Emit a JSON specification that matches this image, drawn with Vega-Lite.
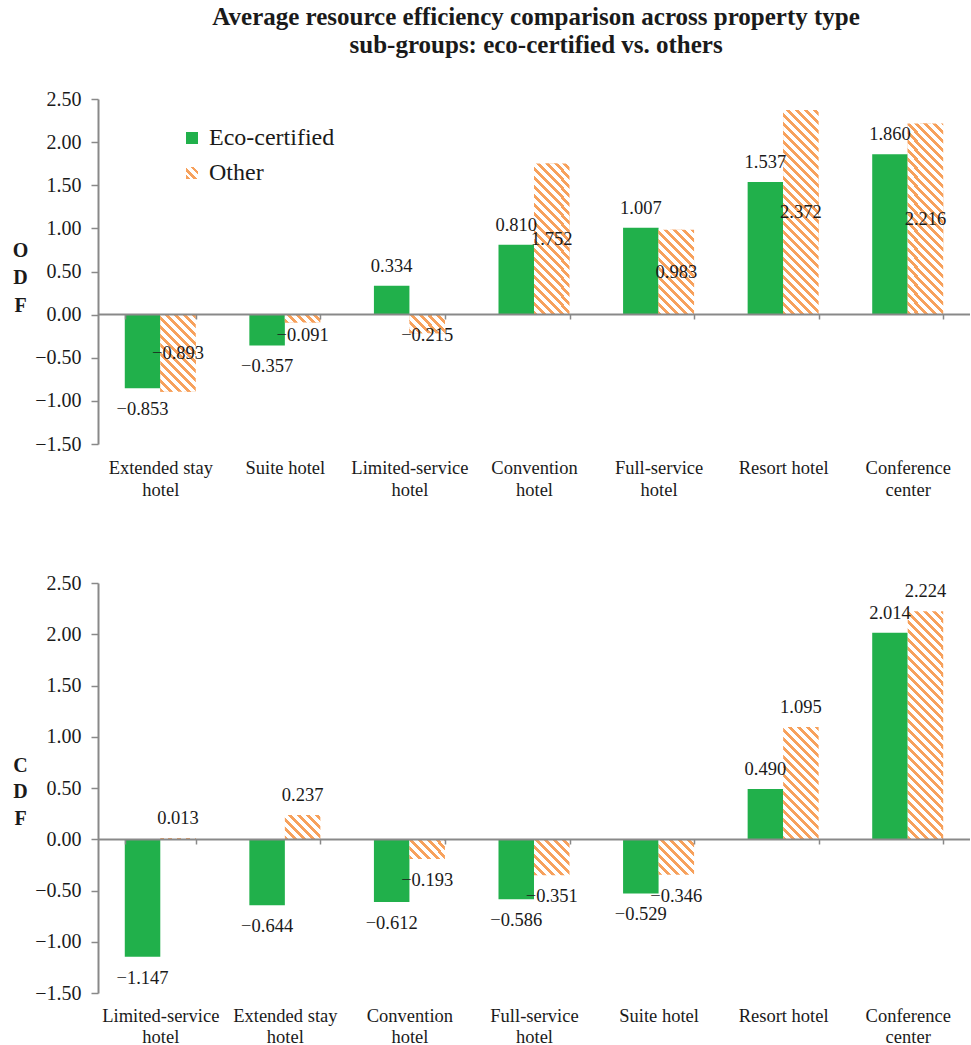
{
  "$schema": "https://vega.github.io/schema/vega-lite/v6.json",
  "padding": {"left": 12, "top": 5, "right": 0, "bottom": 0},
  "config": {"font": "Liberation Serif", "view": {"stroke": null},
    "text": {"font": "Liberation Serif"},
    "axis": {"labelFont": "Liberation Serif", "titleFont": "Liberation Serif"},
    "legend": {"labelFont": "Liberation Serif", "titleFont": "Liberation Serif"}},
  "title": {"text": ["Average resource efficiency comparison across property type", "sub-groups: eco-certified vs. others"], "fontSize": 25, "fontWeight": "bold", "font": "Liberation Serif", "lineHeight": 28, "anchor": "middle", "offset": 31, "dx": 45, "color": "#1a1a1a"},
  "params": [
    {"name": "legendGrad", "value": {"gradient": "linear", "x1": 0, "y1": 1, "x2": 1, "y2": 0, "stops": [
      {"offset": 0, "color": "#F7A15C"}, {"offset": 0.17, "color": "#F7A15C"}, {"offset": 0.17, "color": "#fff"}, {"offset": 0.333, "color": "#fff"},
      {"offset": 0.333, "color": "#F7A15C"}, {"offset": 0.5, "color": "#F7A15C"}, {"offset": 0.5, "color": "#fff"}, {"offset": 0.667, "color": "#fff"},
      {"offset": 0.667, "color": "#F7A15C"}, {"offset": 0.83, "color": "#F7A15C"}, {"offset": 0.83, "color": "#fff"}, {"offset": 1, "color": "#fff"}]}},
    {"name": "stripes", "value": [
    {"offset":0,"color":"#F7A15C"},{"offset":0.0140625,"color":"#F7A15C"},{"offset":0.0140625,"color":"#fff"},{"offset":0.03125,"color":"#fff"},
    {"offset":0.03125,"color":"#F7A15C"},{"offset":0.0453125,"color":"#F7A15C"},{"offset":0.0453125,"color":"#fff"},{"offset":0.0625,"color":"#fff"},
    {"offset":0.0625,"color":"#F7A15C"},{"offset":0.0765625,"color":"#F7A15C"},{"offset":0.0765625,"color":"#fff"},{"offset":0.09375,"color":"#fff"},
    {"offset":0.09375,"color":"#F7A15C"},{"offset":0.1078125,"color":"#F7A15C"},{"offset":0.1078125,"color":"#fff"},{"offset":0.125,"color":"#fff"},
    {"offset":0.125,"color":"#F7A15C"},{"offset":0.1390625,"color":"#F7A15C"},{"offset":0.1390625,"color":"#fff"},{"offset":0.15625,"color":"#fff"},
    {"offset":0.15625,"color":"#F7A15C"},{"offset":0.1703125,"color":"#F7A15C"},{"offset":0.1703125,"color":"#fff"},{"offset":0.1875,"color":"#fff"},
    {"offset":0.1875,"color":"#F7A15C"},{"offset":0.2015625,"color":"#F7A15C"},{"offset":0.2015625,"color":"#fff"},{"offset":0.21875,"color":"#fff"},
    {"offset":0.21875,"color":"#F7A15C"},{"offset":0.2328125,"color":"#F7A15C"},{"offset":0.2328125,"color":"#fff"},{"offset":0.25,"color":"#fff"},
    {"offset":0.25,"color":"#F7A15C"},{"offset":0.2640625,"color":"#F7A15C"},{"offset":0.2640625,"color":"#fff"},{"offset":0.28125,"color":"#fff"},
    {"offset":0.28125,"color":"#F7A15C"},{"offset":0.2953125,"color":"#F7A15C"},{"offset":0.2953125,"color":"#fff"},{"offset":0.3125,"color":"#fff"},
    {"offset":0.3125,"color":"#F7A15C"},{"offset":0.3265625,"color":"#F7A15C"},{"offset":0.3265625,"color":"#fff"},{"offset":0.34375,"color":"#fff"},
    {"offset":0.34375,"color":"#F7A15C"},{"offset":0.3578125,"color":"#F7A15C"},{"offset":0.3578125,"color":"#fff"},{"offset":0.375,"color":"#fff"},
    {"offset":0.375,"color":"#F7A15C"},{"offset":0.3890625,"color":"#F7A15C"},{"offset":0.3890625,"color":"#fff"},{"offset":0.40625,"color":"#fff"},
    {"offset":0.40625,"color":"#F7A15C"},{"offset":0.4203125,"color":"#F7A15C"},{"offset":0.4203125,"color":"#fff"},{"offset":0.4375,"color":"#fff"},
    {"offset":0.4375,"color":"#F7A15C"},{"offset":0.4515625,"color":"#F7A15C"},{"offset":0.4515625,"color":"#fff"},{"offset":0.46875,"color":"#fff"},
    {"offset":0.46875,"color":"#F7A15C"},{"offset":0.4828125,"color":"#F7A15C"},{"offset":0.4828125,"color":"#fff"},{"offset":0.5,"color":"#fff"},
    {"offset":0.5,"color":"#F7A15C"},{"offset":0.5140625,"color":"#F7A15C"},{"offset":0.5140625,"color":"#fff"},{"offset":0.53125,"color":"#fff"},
    {"offset":0.53125,"color":"#F7A15C"},{"offset":0.5453125,"color":"#F7A15C"},{"offset":0.5453125,"color":"#fff"},{"offset":0.5625,"color":"#fff"},
    {"offset":0.5625,"color":"#F7A15C"},{"offset":0.5765625,"color":"#F7A15C"},{"offset":0.5765625,"color":"#fff"},{"offset":0.59375,"color":"#fff"},
    {"offset":0.59375,"color":"#F7A15C"},{"offset":0.6078125,"color":"#F7A15C"},{"offset":0.6078125,"color":"#fff"},{"offset":0.625,"color":"#fff"},
    {"offset":0.625,"color":"#F7A15C"},{"offset":0.6390625,"color":"#F7A15C"},{"offset":0.6390625,"color":"#fff"},{"offset":0.65625,"color":"#fff"},
    {"offset":0.65625,"color":"#F7A15C"},{"offset":0.6703125,"color":"#F7A15C"},{"offset":0.6703125,"color":"#fff"},{"offset":0.6875,"color":"#fff"},
    {"offset":0.6875,"color":"#F7A15C"},{"offset":0.7015625,"color":"#F7A15C"},{"offset":0.7015625,"color":"#fff"},{"offset":0.71875,"color":"#fff"},
    {"offset":0.71875,"color":"#F7A15C"},{"offset":0.7328125,"color":"#F7A15C"},{"offset":0.7328125,"color":"#fff"},{"offset":0.75,"color":"#fff"},
    {"offset":0.75,"color":"#F7A15C"},{"offset":0.7640625,"color":"#F7A15C"},{"offset":0.7640625,"color":"#fff"},{"offset":0.78125,"color":"#fff"},
    {"offset":0.78125,"color":"#F7A15C"},{"offset":0.7953125,"color":"#F7A15C"},{"offset":0.7953125,"color":"#fff"},{"offset":0.8125,"color":"#fff"},
    {"offset":0.8125,"color":"#F7A15C"},{"offset":0.8265625,"color":"#F7A15C"},{"offset":0.8265625,"color":"#fff"},{"offset":0.84375,"color":"#fff"},
    {"offset":0.84375,"color":"#F7A15C"},{"offset":0.8578125,"color":"#F7A15C"},{"offset":0.8578125,"color":"#fff"},{"offset":0.875,"color":"#fff"},
    {"offset":0.875,"color":"#F7A15C"},{"offset":0.8890625,"color":"#F7A15C"},{"offset":0.8890625,"color":"#fff"},{"offset":0.90625,"color":"#fff"},
    {"offset":0.90625,"color":"#F7A15C"},{"offset":0.9203125,"color":"#F7A15C"},{"offset":0.9203125,"color":"#fff"},{"offset":0.9375,"color":"#fff"},
    {"offset":0.9375,"color":"#F7A15C"},{"offset":0.9515625,"color":"#F7A15C"},{"offset":0.9515625,"color":"#fff"},{"offset":0.96875,"color":"#fff"},
    {"offset":0.96875,"color":"#F7A15C"},{"offset":0.9828125,"color":"#F7A15C"},{"offset":0.9828125,"color":"#fff"},{"offset":1,"color":"#fff"}
  ]}],
  "datasets": {
    "odf": [
      {"category": "Extended stay hotel", "group": "Eco-certified", "value": -0.853},
      {"category": "Extended stay hotel", "group": "Other", "value": -0.893},
      {"category": "Suite hotel", "group": "Eco-certified", "value": -0.357},
      {"category": "Suite hotel", "group": "Other", "value": -0.091},
      {"category": "Limited-service hotel", "group": "Eco-certified", "value": 0.334},
      {"category": "Limited-service hotel", "group": "Other", "value": -0.215},
      {"category": "Convention hotel", "group": "Eco-certified", "value": 0.810},
      {"category": "Convention hotel", "group": "Other", "value": 1.752},
      {"category": "Full-service hotel", "group": "Eco-certified", "value": 1.007},
      {"category": "Full-service hotel", "group": "Other", "value": 0.983},
      {"category": "Resort hotel", "group": "Eco-certified", "value": 1.537},
      {"category": "Resort hotel", "group": "Other", "value": 2.372},
      {"category": "Conference center", "group": "Eco-certified", "value": 1.860},
      {"category": "Conference center", "group": "Other", "value": 2.216}
    ],
    "cdf": [
      {"category": "Limited-service hotel", "group": "Eco-certified", "value": -1.147},
      {"category": "Limited-service hotel", "group": "Other", "value": 0.013},
      {"category": "Extended stay hotel", "group": "Eco-certified", "value": -0.644},
      {"category": "Extended stay hotel", "group": "Other", "value": 0.237},
      {"category": "Convention hotel", "group": "Eco-certified", "value": -0.612},
      {"category": "Convention hotel", "group": "Other", "value": -0.193},
      {"category": "Full-service hotel", "group": "Eco-certified", "value": -0.586},
      {"category": "Full-service hotel", "group": "Other", "value": -0.351},
      {"category": "Suite hotel", "group": "Eco-certified", "value": -0.529},
      {"category": "Suite hotel", "group": "Other", "value": -0.346},
      {"category": "Resort hotel", "group": "Eco-certified", "value": 0.490},
      {"category": "Resort hotel", "group": "Other", "value": 1.095},
      {"category": "Conference center", "group": "Eco-certified", "value": 2.014},
      {"category": "Conference center", "group": "Other", "value": 2.224}
    ]
  },
  "resolve": {"scale": {"fill": "independent"}, "legend": {"fill": "independent"}},
  "spacing": 74,
  "vconcat": [
    {
      "width": 872,
      "height": 345,
      "data": {"name": "odf"},
      "transform": [
        {"calculate": "datum.group=='Other' ? (datum.value<0 ? min(datum.value/2, -0.235) : datum.value/2) : (datum.value<0 ? datum.value - 21/86.25 : datum.value + 20/86.25)", "as": "lp"},
        {"calculate": "datum.group=='Eco-certified' ? '#21B04B' : {'gradient':'linear','x1':0,'y1':1,'x2':288*36/(1296+pow(abs(datum.value)*86.25,2)),'y2':1-288*abs(datum.value)*86.25/(1296+pow(abs(datum.value)*86.25,2)),'stops':stripes}", "as": "fillv"}
      ],
      "encoding": {
        "x": {"field": "category", "type": "nominal",
          "sort": ["Extended stay hotel", "Suite hotel", "Limited-service hotel", "Convention hotel", "Full-service hotel", "Resort hotel", "Conference center"],
          "scale": {"paddingInner": 0.43, "paddingOuter": 0.215},
          "axis": {"orient": "bottom", "offset": -130, "title": null, "domainColor": "#898989", "domainWidth": 2, "ticks": true, "tickBand": "extent", "tickSize": 5, "tickColor": "#898989", "tickWidth": 1.5, "labelPadding": 139, "labelFont": "Liberation Serif", "labelFontSize": 18.5, "labelLineHeight": 22, "labelAngle": 0, "labelColor": "#1a1a1a", "labelOverlap": false, "zindex": 1,
            "labelExpr": "!isValid(datum.value) ? '' : datum.value=='Extended stay hotel' ? ['Extended stay','hotel'] : datum.value=='Conference center' ? ['Conference','center'] : (datum.value=='Suite hotel' || datum.value=='Resort hotel') ? datum.value : split(datum.value,' ')"}
        },
        "xOffset": {"field": "group", "type": "nominal", "sort": ["Eco-certified", "Other"], "scale": {"paddingInner": 0, "paddingOuter": 0}}
      },
      "layer": [
        {
          "mark": {"type": "bar"},
          "encoding": {
            "y": {"field": "value", "type": "quantitative",
              "scale": {"domain": [-1.5, 2.5], "nice": false, "zero": false},
              "axis": {"values": [-1.5, -1, -0.5, 0, 0.5, 1, 1.5, 2, 2.5], "format": ".2f", "grid": false, "domainColor": "#898989", "domainWidth": 2, "tickColor": "#898989", "tickWidth": 1.5, "tickSize": 7, "labelPadding": 10, "labelFont": "Liberation Serif", "labelFontSize": 20, "labelColor": "#1a1a1a",
                "title": ["O", "D", "F"], "titleAngle": 0, "titleX": -78, "titleY": 151, "titleAlign": "center", "titleBaseline": "middle", "titleFont": "Liberation Serif", "titleFontSize": 20, "titleFontWeight": "bold", "titleLineHeight": 27.5, "titleColor": "#1a1a1a"}},
            "fill": {"field": "group", "type": "nominal",
              "scale": {"domain": ["Eco-certified", "Other"], "range": ["#21B04B", {"expr": "legendGrad"}]},
              "legend": {"orient": "none", "legendX": 82, "legendY": 27, "title": null, "labelFontSize": 24, "labelColor": "#1a1a1a", "symbolType": "square", "symbolSize": 144, "symbolStrokeWidth": 0, "rowPadding": 11, "labelOffset": 5, "labelFont": "Liberation Serif"}}
          }
        },
        {
          "transform": [{"filter": "datum.group=='Other'"}],
          "mark": {"type": "bar"},
          "encoding": {
            "y": {"field": "value", "type": "quantitative"},
            "fill": {"field": "fillv", "type": "nominal", "scale": null}
          }
        },
        {
          "mark": {"type": "text", "font": "Liberation Serif", "fontSize": 18.5, "baseline": "middle", "align": "center", "color": "#1a1a1a"},
          "encoding": {
            "y": {"field": "lp", "type": "quantitative"},
            "text": {"field": "value", "type": "quantitative", "format": ".3f"}
          }
        }
      ]
    },
    {
      "width": 872,
      "height": 410,
      "data": {"name": "cdf"},
      "transform": [
        {"calculate": "datum.value<0 ? datum.value - 21/102.5 : datum.value + 20/102.5", "as": "lp"},
        {"calculate": "datum.group=='Eco-certified' ? '#21B04B' : {'gradient':'linear','x1':0,'y1':1,'x2':288*36/(1296+pow(abs(datum.value)*102.5,2)),'y2':1-288*abs(datum.value)*102.5/(1296+pow(abs(datum.value)*102.5,2)),'stops':stripes}", "as": "fillv"}
      ],
      "encoding": {
        "x": {"field": "category", "type": "nominal",
          "sort": ["Limited-service hotel", "Extended stay hotel", "Convention hotel", "Full-service hotel", "Suite hotel", "Resort hotel", "Conference center"],
          "scale": {"paddingInner": 0.43, "paddingOuter": 0.215},
          "axis": {"orient": "bottom", "offset": -154, "title": null, "domainColor": "#898989", "domainWidth": 2, "ticks": true, "tickBand": "extent", "tickSize": 5, "tickColor": "#898989", "tickWidth": 1.5, "labelPadding": 162, "labelFont": "Liberation Serif", "labelFontSize": 18.5, "labelLineHeight": 21, "labelAngle": 0, "labelColor": "#1a1a1a", "labelOverlap": false, "zindex": 1,
            "labelExpr": "!isValid(datum.value) ? '' : datum.value=='Extended stay hotel' ? ['Extended stay','hotel'] : datum.value=='Conference center' ? ['Conference','center'] : (datum.value=='Suite hotel' || datum.value=='Resort hotel') ? datum.value : split(datum.value,' ')"}
        },
        "xOffset": {"field": "group", "type": "nominal", "sort": ["Eco-certified", "Other"], "scale": {"paddingInner": 0, "paddingOuter": 0}}
      },
      "layer": [
        {
          "mark": {"type": "bar"},
          "encoding": {
            "y": {"field": "value", "type": "quantitative",
              "scale": {"domain": [-1.5, 2.5], "nice": false, "zero": false},
              "axis": {"values": [-1.5, -1, -0.5, 0, 0.5, 1, 1.5, 2, 2.5], "format": ".2f", "grid": false, "domainColor": "#898989", "domainWidth": 2, "tickColor": "#898989", "tickWidth": 1.5, "tickSize": 7, "labelPadding": 10, "labelFont": "Liberation Serif", "labelFontSize": 20, "labelColor": "#1a1a1a",
                "title": ["C", "D", "F"], "titleAngle": 0, "titleX": -78, "titleY": 182, "titleAlign": "center", "titleBaseline": "middle", "titleFont": "Liberation Serif", "titleFontSize": 20, "titleFontWeight": "bold", "titleLineHeight": 26.5, "titleColor": "#1a1a1a"}},
            "fill": {"field": "fillv", "type": "nominal", "scale": null}
          }
        },
        {
          "mark": {"type": "text", "font": "Liberation Serif", "fontSize": 18.5, "baseline": "middle", "align": "center", "color": "#1a1a1a"},
          "encoding": {
            "y": {"field": "lp", "type": "quantitative"},
            "text": {"field": "value", "type": "quantitative", "format": ".3f"}
          }
        }
      ]
    }
  ]
}
